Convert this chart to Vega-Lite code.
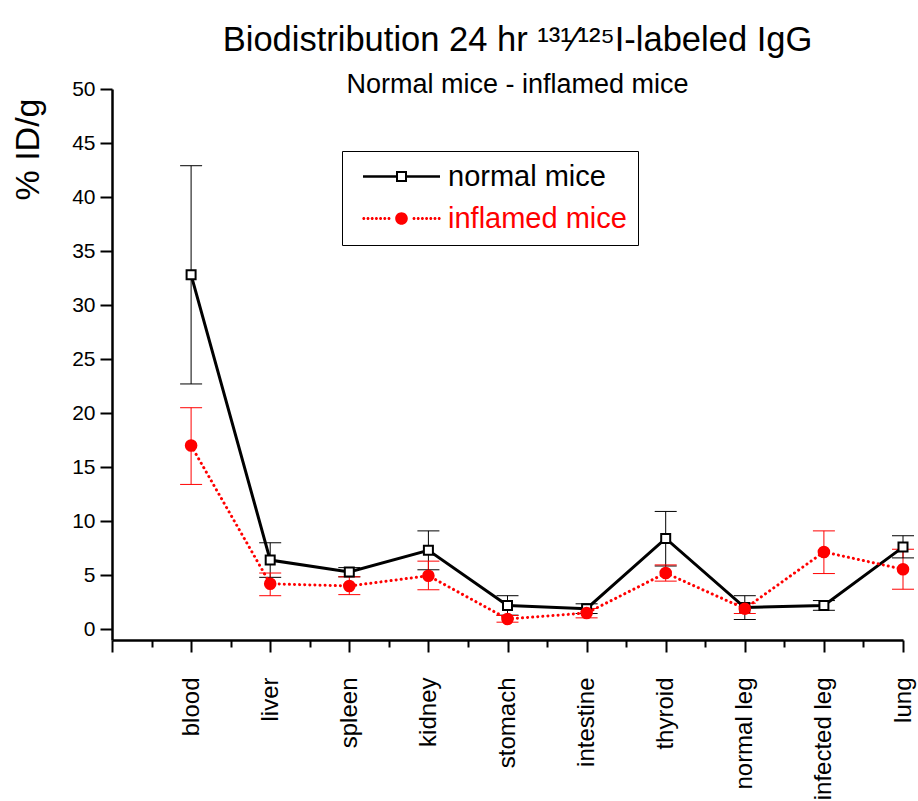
{
  "$schema": "https://vega.github.io/schema/vega-lite/v6.json",
  "autosize": "none",
  "width": 791,
  "height": 551,
  "padding": {"left": 112, "top": 89, "right": 15, "bottom": 161},
  "background": "white",
  "config": {
    "font": "Liberation Sans",
    "view": {"stroke": null},
    "axis": {"grid": false, "domainColor": "black", "domainWidth": 2.5, "tickColor": "black", "tickWidth": 2, "labelColor": "black", "titleColor": "black", "labelFont": "Liberation Sans", "titleFont": "Liberation Sans", "titleFontWeight": "normal"}
  },
  "title": {
    "text": "Biodistribution 24 hr ¹³¹⁄¹²⁵I-labeled IgG",
    "subtitle": "Normal mice - inflamed mice",
    "font": "Liberation Sans",
    "subtitleFont": "Liberation Sans",
    "fontSize": 34.5,
    "fontWeight": "normal",
    "subtitleFontSize": 27,
    "color": "black",
    "subtitleColor": "black",
    "anchor": "middle",
    "frame": "group",
    "dx": 10,
    "offset": -21,
    "subtitlePadding": 14
  },
  "data": {
    "values": [
      {"organ": "blood", "idx": 1, "series": "normal mice", "mean": 32.8, "lo": 22.7, "hi": 42.9},
      {"organ": "liver", "idx": 2, "series": "normal mice", "mean": 6.4, "lo": 4.8, "hi": 8.0},
      {"organ": "spleen", "idx": 3, "series": "normal mice", "mean": 5.3, "lo": 4.85, "hi": 5.7},
      {"organ": "kidney", "idx": 4, "series": "normal mice", "mean": 7.3, "lo": 5.5, "hi": 9.1},
      {"organ": "stomach", "idx": 5, "series": "normal mice", "mean": 2.2, "lo": 1.3, "hi": 3.1},
      {"organ": "intestine", "idx": 6, "series": "normal mice", "mean": 1.9, "lo": 1.45, "hi": 2.35},
      {"organ": "thyroid", "idx": 7, "series": "normal mice", "mean": 8.4, "lo": 5.85, "hi": 10.9},
      {"organ": "normal leg", "idx": 8, "series": "normal mice", "mean": 2.0, "lo": 0.9, "hi": 3.1},
      {"organ": "infected leg", "idx": 9, "series": "normal mice", "mean": 2.2, "lo": 1.75, "hi": 2.65},
      {"organ": "lung", "idx": 10, "series": "normal mice", "mean": 7.6, "lo": 6.6, "hi": 8.65},
      {"organ": "blood", "idx": 1, "series": "inflamed mice", "mean": 17.0, "lo": 13.4, "hi": 20.5},
      {"organ": "liver", "idx": 2, "series": "inflamed mice", "mean": 4.2, "lo": 3.1, "hi": 5.2},
      {"organ": "spleen", "idx": 3, "series": "inflamed mice", "mean": 4.0, "lo": 3.2, "hi": 4.85},
      {"organ": "kidney", "idx": 4, "series": "inflamed mice", "mean": 4.95, "lo": 3.65, "hi": 6.3},
      {"organ": "stomach", "idx": 5, "series": "inflamed mice", "mean": 0.95, "lo": 0.65, "hi": 1.27},
      {"organ": "intestine", "idx": 6, "series": "inflamed mice", "mean": 1.5, "lo": 1.05, "hi": 1.92},
      {"organ": "thyroid", "idx": 7, "series": "inflamed mice", "mean": 5.2, "lo": 4.45, "hi": 5.95},
      {"organ": "normal leg", "idx": 8, "series": "inflamed mice", "mean": 1.9, "lo": 1.45, "hi": 2.4},
      {"organ": "infected leg", "idx": 9, "series": "inflamed mice", "mean": 7.15, "lo": 5.15, "hi": 9.1},
      {"organ": "lung", "idx": 10, "series": "inflamed mice", "mean": 5.55, "lo": 3.7, "hi": 7.4}
    ]
  },
  "encoding": {
    "x": {
      "field": "idx", "type": "quantitative",
      "scale": {"domain": [0, 10], "nice": false, "zero": false},
      "axis": {
        "title": null,
        "values": [0, 0.5, 1, 1.5, 2, 2.5, 3, 3.5, 4, 4.5, 5, 5.5, 6, 6.5, 7, 7.5, 8, 8.5, 9, 9.5, 10],
        "labelExpr": "datum.value % 1 === 0 && datum.value >= 1 ? ['blood','liver','spleen','kidney','stomach','intestine','thyroid','normal leg','infected leg','lung'][datum.value - 1] : ''",
        "labelAngle": -90,
        "labelAlign": "right",
        "labelBaseline": "middle",
        "labelFontSize": 24,
        "labelPadding": 25,
        "labelOverlap": false,
        "labelBound": false,
        "labelFlush": false,
        "tickSize": {"condition": {"test": "datum.value % 1 === 0", "value": 12}, "value": 7}
      }
    },
    "color": {
      "field": "series", "type": "nominal",
      "scale": {"domain": ["normal mice", "inflamed mice"], "range": ["black", "red"]},
      "legend": {
        "title": null,
        "orient": "none",
        "legendX": 230,
        "legendY": 62,
        "padding": 11,
        "strokeColor": "black",
        "labelFontSize": 29,
        "labelFont": "Liberation Sans",
        "labelLimit": 400,
        "symbolSize": 100,
        "symbolStrokeWidth": 0,
        "symbolOpacity": 1,
        "symbolOffset": 34,
        "labelOffset": 32,
        "rowPadding": 12,
        "encode": {
          "labels": {
            "update": {"fill": {"signal": "datum.value === 'normal mice' ? 'black' : 'red'"}}
          }
        }
      }
    }
  },
  "layer": [
    {
      "mark": {"type": "rule", "strokeWidth": 1, "opacity": 1},
      "encoding": {
        "y": {
          "field": "lo", "type": "quantitative",
          "scale": {"domain": [-1, 50], "nice": false, "zero": false},
          "axis": {
            "title": "% ID/g",
            "titleFontSize": 34,
            "titleAngle": -90,
            "titleAlign": "center",
            "titleBaseline": "middle",
            "titleX": -84,
            "titleY": 60,
            "values": [0, 2.5, 5, 7.5, 10, 12.5, 15, 17.5, 20, 22.5, 25, 27.5, 30, 32.5, 35, 37.5, 40, 42.5, 45, 47.5, 50],
            "labelExpr": "datum.value % 5 === 0 ? datum.label : ''",
            "labelFontSize": 21,
            "labelPadding": 5,
            "labelOverlap": false,
            "labelBound": false,
            "labelFlush": false,
            "tickSize": {"condition": {"test": "datum.value % 5 === 0", "value": 12}, "value": 6}
          }
        },
        "y2": {"field": "hi"}
      }
    },
    {
      "mark": {"type": "tick", "orient": "horizontal", "size": 22, "thickness": 1, "opacity": 1},
      "encoding": {"y": {"field": "lo", "type": "quantitative"}}
    },
    {
      "mark": {"type": "tick", "orient": "horizontal", "size": 22, "thickness": 1, "opacity": 1},
      "encoding": {"y": {"field": "hi", "type": "quantitative"}}
    },
    {
      "transform": [{"filter": "datum.series === 'normal mice'"}],
      "mark": {"type": "line", "strokeWidth": 3, "opacity": 1},
      "encoding": {"y": {"field": "mean", "type": "quantitative"}}
    },
    {
      "transform": [{"filter": "datum.series === 'inflamed mice'"}],
      "mark": {"type": "line", "strokeWidth": 3, "strokeCap": "round", "strokeDash": [0.1, 5], "opacity": 1},
      "encoding": {"y": {"field": "mean", "type": "quantitative"}}
    },
    {
      "transform": [{"filter": "datum.series === 'normal mice'"}],
      "mark": {"type": "point", "shape": "square", "size": 81, "filled": true, "fill": "white", "stroke": "black", "strokeWidth": 2, "opacity": 1},
      "encoding": {"y": {"field": "mean", "type": "quantitative"}}
    },
    {
      "transform": [{"filter": "datum.series === 'inflamed mice'"}],
      "mark": {"type": "point", "shape": "circle", "size": 112, "filled": true, "fill": "red", "stroke": "red", "strokeWidth": 2, "opacity": 1},
      "encoding": {"y": {"field": "mean", "type": "quantitative"}}
    },
    {
      "transform": [{"filter": "datum.idx < 0"}],
      "mark": {"type": "point", "filled": true, "opacity": 1},
      "encoding": {
        "y": {"field": "mean", "type": "quantitative"},
        "shape": {
          "field": "series", "type": "nominal",
          "scale": {"domain": ["normal mice", "inflamed mice"], "range": [
            "M-7.7,-0.25L-1.1,-0.25L-1.1,0.25L-7.7,0.25ZM1.1,-0.25L7.7,-0.25L7.7,0.25L1.1,0.25ZM-1.1,-1.1L1.1,-1.1L1.1,1.1L-1.1,1.1ZM-0.7,-0.7L-0.7,0.7L0.7,0.7L0.7,-0.7Z",
            "M-1.26,0a1.26,1.26 0 1,0 2.52,0a1.26,1.26 0 1,0 -2.52,0M-7.84,0a0.3,0.3 0 1,0 0.6,0a0.3,0.3 0 1,0 -0.6,0M-7,0a0.3,0.3 0 1,0 0.6,0a0.3,0.3 0 1,0 -0.6,0M-6.16,0a0.3,0.3 0 1,0 0.6,0a0.3,0.3 0 1,0 -0.6,0M-5.32,0a0.3,0.3 0 1,0 0.6,0a0.3,0.3 0 1,0 -0.6,0M-4.48,0a0.3,0.3 0 1,0 0.6,0a0.3,0.3 0 1,0 -0.6,0M-3.64,0a0.3,0.3 0 1,0 0.6,0a0.3,0.3 0 1,0 -0.6,0M-2.8,0a0.3,0.3 0 1,0 0.6,0a0.3,0.3 0 1,0 -0.6,0M2.2,0a0.3,0.3 0 1,0 0.6,0a0.3,0.3 0 1,0 -0.6,0M3.04,0a0.3,0.3 0 1,0 0.6,0a0.3,0.3 0 1,0 -0.6,0M3.88,0a0.3,0.3 0 1,0 0.6,0a0.3,0.3 0 1,0 -0.6,0M4.72,0a0.3,0.3 0 1,0 0.6,0a0.3,0.3 0 1,0 -0.6,0M5.56,0a0.3,0.3 0 1,0 0.6,0a0.3,0.3 0 1,0 -0.6,0M6.4,0a0.3,0.3 0 1,0 0.6,0a0.3,0.3 0 1,0 -0.6,0M7.24,0a0.3,0.3 0 1,0 0.6,0a0.3,0.3 0 1,0 -0.6,0"
          ]}
        }
      }
    }
  ]
}
